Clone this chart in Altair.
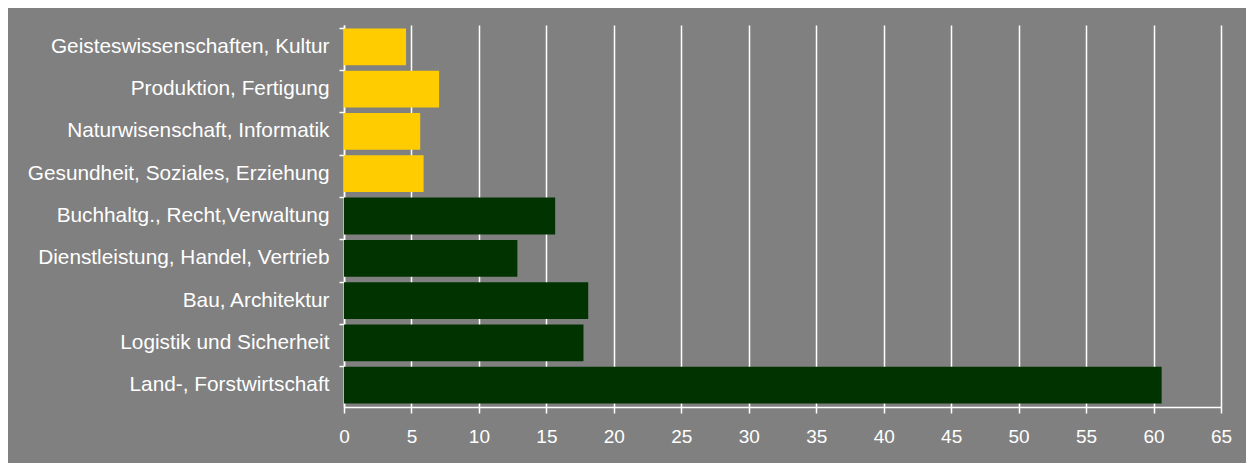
import altair as alt
import pandas as pd

categories = [
    "Geisteswissenschaften, Kultur",
    "Produktion, Fertigung",
    "Naturwisenschaft, Informatik",
    "Gesundheit, Soziales, Erziehung",
    "Buchhaltg., Recht,Verwaltung",
    "Dienstleistung, Handel, Vertrieb",
    "Bau, Architektur",
    "Logistik und Sicherheit",
    "Land-, Forstwirtschaft",
]
values = [4.6, 7.05, 5.65, 5.9, 15.65, 12.85, 18.1, 17.75, 60.6]
groups = ["a", "a", "a", "a", "b", "b", "b", "b", "b"]
tick_values = list(range(0, 66, 5))

df = pd.DataFrame({"cat": categories, "val": values, "grp": groups})

FONT = "Liberation Sans"

chart = (
    alt.Chart(df)
    .mark_bar()
    .encode(
        y=alt.Y(
            "cat:N",
            sort=categories,
            title=None,
            scale=alt.Scale(paddingInner=0.13, paddingOuter=0.08),
            axis=alt.Axis(
                bandPosition=0,
                domainColor="white",
                domainWidth=1.5,
                tickColor="white",
                tickWidth=1.5,
                tickSize=5,
                labelColor="white",
                labelFont=FONT,
                labelFontSize=20.8,
                labelPadding=10,
                labelLimit=400,
                grid=False,
            ),
        ),
        x=alt.X(
            "val:Q",
            title=None,
            scale=alt.Scale(domain=[0, 65], nice=False),
            axis=alt.Axis(
                values=tick_values,
                domainColor="white",
                domainWidth=1.5,
                tickColor="white",
                tickWidth=1.5,
                tickSize=6,
                labelColor="white",
                labelFont=FONT,
                labelFontSize=19,
                labelPadding=14,
                grid=True,
                gridColor="white",
                gridWidth=1.5,
                labelFlush=False,
            ),
        ),
        color=alt.Color(
            "grp:N",
            scale=alt.Scale(domain=["a", "b"], range=["#FFCC00", "#003300"]),
            legend=None,
        ),
    )
    .properties(
        width=877,
        height=382,
        autosize=alt.AutoSizeParams(type="none"),
        padding={"left": 336, "top": 17, "right": 25, "bottom": 56},
        background="#808080",
    )
    .configure_view(stroke=None)
)

chart.save("out.html", embed_options={"renderer": "svg", "actions": False})
